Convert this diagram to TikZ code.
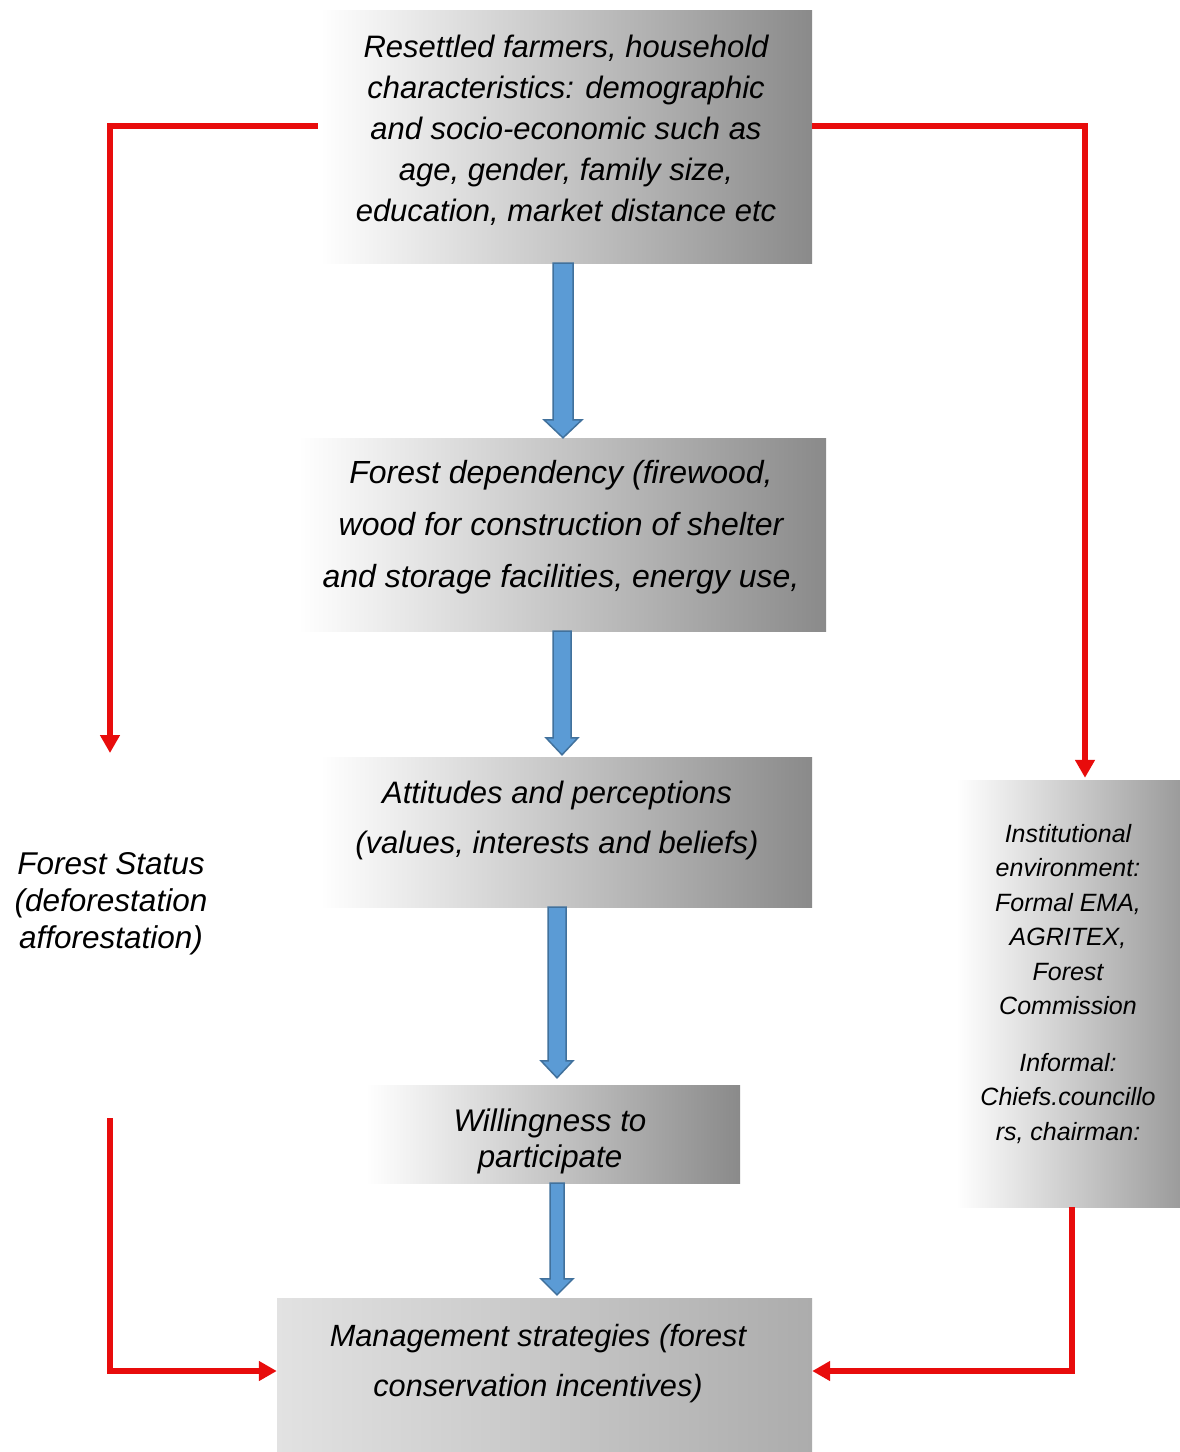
\documentclass[tikz,border=0pt]{standalone}
\usepackage{fontspec}
\setmainfont{Liberation Sans}
\usetikzlibrary{calc,arrows.meta}

\definecolor{flowred}{RGB}{232,12,12}
\definecolor{flowblue}{RGB}{91,155,213}
\definecolor{flowblueedge}{RGB}{65,113,156}
\definecolor{shadeend}{RGB}{138,138,138}
\definecolor{paleleft}{RGB}{226,226,226}
\definecolor{paleright}{RGB}{172,172,172}

% downward block arrow: column, from node, to node, shaft half width,
% head half width, head length, gap left above the target
\newcommand\blockdown[7]{%
  \draw[blockarrow]
    ($(#1 |- #2.south)+(-#4,0)$) --
    ($(#1 |- #3.north)+(-#4,-#6-#7)$) --
    ($(#1 |- #3.north)+(-#5,-#6-#7)$) --
    ($(#1 |- #3.north)+(0,-#7)$) --
    ($(#1 |- #3.north)+(#5,-#6-#7)$) --
    ($(#1 |- #3.north)+(#4,-#6-#7)$) --
    ($(#1 |- #2.south)+(#4,0)$) -- cycle;}

\tikzset{
  box/.style={rectangle, inner sep=0pt, draw=none,
    left color=white, right color=shadeend},
  palebox/.style={box, left color=paleleft, right color=paleright},
  txt/.style={align=center, inner sep=0pt, anchor=north},
  blockarrow/.style={fill=flowblue, draw=flowblueedge, line width=1.5pt,
    line join=miter},
  redarrow/.style={draw=flowred, line width=6pt, line join=miter,
    -{Triangle[length=18pt,width=19pt]}},
}

\begin{document}
\begin{tikzpicture}[x=1pt,y=-1pt]
\path[use as bounding box, fill=white] (0,0) rectangle (1180,1452);

% boxes
\node[box, minimum width=492pt, minimum height=253pt] (b1) at (566,136.5) {};
\node[box, minimum width=528pt, minimum height=193pt] (b2) at (562,534.5) {};
\node[box, minimum width=492pt, minimum height=150pt] (b3) at (566,832) {};
\node[box, minimum width=374pt, minimum height=98pt] (b4) at (553,1134) {};
\node[palebox, minimum width=535pt, minimum height=154pt] (b5) at (544.5,1375) {};
\node[box, right color=shadeend!85!white, minimum width=224pt, minimum height=427pt] (b6) at (1068,993.5) {};

% texts
\node[txt, font=\fontsize{31}{41}\selectfont\itshape] (t1) at (566,34.5)
  {Resettled farmers, household\\characteristics: demographic\\and socio-economic such as\\age, gender, family size,\\education, market distance etc};
\node[txt, font=\fontsize{32}{52}\selectfont\itshape] (t2) at (561,460)
  {Forest dependency (firewood,\\wood for construction of shelter\\and storage facilities, energy use,};
\node[txt, font=\fontsize{31}{50}\selectfont\itshape] (t3) at (557,781)
  {Attitudes and perceptions\\(values, interests and beliefs)};
\node[txt, font=\fontsize{31.3}{36}\selectfont\itshape] (t4) at (550,1109)
  {Willingness to\\participate};
\node[txt, font=\fontsize{30.7}{50}\selectfont\itshape] (t5) at (538,1324)
  {Management strategies (forest\\conservation incentives)};
\node[txt, font=\fontsize{25}{34.5}\selectfont\itshape] (t6) at (1068,824)
  {Institutional\\environment:\\Formal EMA,\\AGRITEX,\\Forest\\Commission\\[22pt]Informal:\\Chiefs.councillo\\rs, chairman:};
\node[txt, font=\fontsize{31.5}{37}\selectfont\itshape] (fs) at (111,852)
  {Forest Status\\(deforestation\\afforestation)};

% blue block arrows down the middle column
\coordinate (c1) at (563,0);
\coordinate (c2) at (562,0);
\coordinate (c3) at (557,0);
\coordinate (c4) at (557,0);
\blockdown{c1}{b1}{b2}{10}{19}{18}{0}
\blockdown{c2}{b2}{b3}{9}{16}{17}{2}
\blockdown{c3}{b3}{b4}{9}{16}{17}{7}
\blockdown{c4}{b4}{b5}{7}{16}{16}{3}

% red feedback connectors
\coordinate (lt) at (110,126);
\coordinate (lend) at (110,753);
\coordinate (rt) at (1085,126);
\coordinate (lb) at (110,1118);
\coordinate (lc) at (110,1371);
\coordinate (rc) at (1072,1371);
\draw[redarrow] ($(lt -| b1.west)+(-2,0)$) -- (lt) -- (lend);
\draw[redarrow] (rt -| b1.east) -- (rt) -- ($(rt |- b6.north)+(0,-2)$);
\draw[redarrow] (lb) -- (lc) -- (lc -| b5.west);
\draw[redarrow] (rc |- b6.south) -- (rc) -- (rc -| b5.east);
\end{tikzpicture}
\end{document}
